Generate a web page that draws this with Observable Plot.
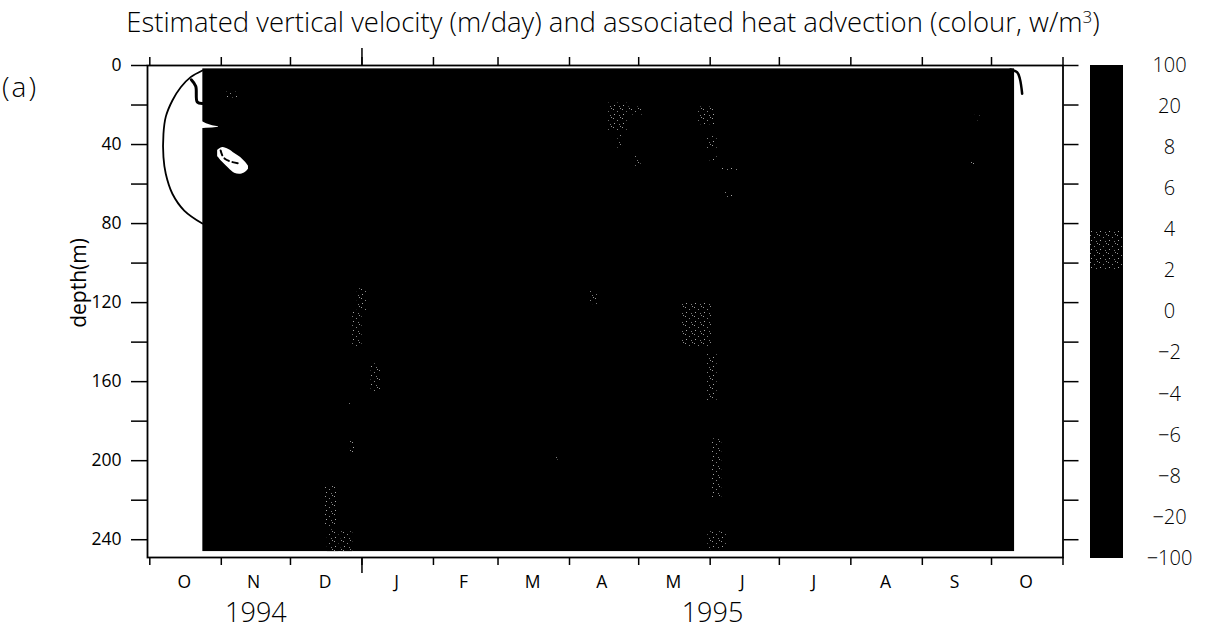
<!DOCTYPE html>
<html>
<head>
<meta charset="utf-8">
<script src="https://cdn.jsdelivr.net/npm/d3@7"></script>
<script src="https://cdn.jsdelivr.net/npm/@observablehq/plot@0.6"></script>
<style>
  html, body { margin: 0; padding: 0; background: #fff; }
  #wrap { position: relative; width: 1205px; height: 634px; font-family: "Open Sans", "DejaVu Sans", sans-serif; font-weight: 300; color: #000; overflow: hidden; }
  #title { position: absolute; top: 5px; left: 613px; transform: translateX(-50%); white-space: nowrap; font-size: 27.5px; line-height: 34px; }
  #title sup { font-size: 0.62em; vertical-align: 0.55em; line-height: 0; }
  #panel { position: absolute; left: 2px; top: 70px; font-size: 28px; letter-spacing: 2px; line-height: 1.2; }
  #ylab { position: absolute; left: 78px; top: 283px; transform: translate(-50%, -50%) rotate(-90deg); white-space: nowrap; font-size: 21px; font-weight: 400; line-height: 1; }
  #main { position: absolute; left: 0; top: 0; }
  #cbar { position: absolute; left: 1062px; top: 0; }
</style>
</head>
<body>
<svg style="position:absolute;width:0;height:0" aria-hidden="true">
  <defs>
    <pattern id="speck" width="9" height="9" patternUnits="userSpaceOnUse">
      <rect width="9" height="9" fill="#000"></rect>
      <rect x="1" y="1" width="1" height="1" fill="#9a9a9a"></rect>
      <rect x="5" y="3" width="1" height="1" fill="#858585"></rect>
      <rect x="2" y="6" width="1" height="1" fill="#a8a8a8"></rect>
      <rect x="7" y="7" width="1" height="1" fill="#7c7c7c"></rect>
      <rect x="8" y="0" width="1" height="1" fill="#8e8e8e"></rect>
    </pattern>
  </defs>
</svg>
<div id="wrap">
  <div id="title">Estimated vertical velocity (m/day) and associated heat advection (colour, w/m<sup>3</sup>)</div>
  <div id="panel">(a)</div>
  <div id="main"></div>
  <div id="cbar"></div>
  <div id="ylab">depth(m)</div>
</div>
<script>
// ---------------- data ----------------
const xDomain = ["1994-09-30", "1995-11-01"];
const depthDomain = [0, 249];

const monthStarts = ["1994-10-01","1994-11-01","1994-12-01","1995-01-01","1995-02-01","1995-03-01",
  "1995-04-01","1995-05-01","1995-06-01","1995-07-01","1995-08-01","1995-09-01","1995-10-01","1995-11-01"];
const yearBoundary = ["1995-01-01"];
const monthLabels = ["O","N","D","J","F","M","A","M","J","J","A","S","O"];
const monthLabelDates = ["1994-10-16","1994-11-15","1994-12-16","1995-01-16","1995-02-14","1995-03-16",
  "1995-04-15","1995-05-16","1995-06-15","1995-07-16","1995-08-16","1995-09-15","1995-10-16"];
const yearLabels = ["1994", "1995"];
const yearLabelDates = ["1994-11-16", "1995-06-02"];

const depthTicks = [0,20,40,60,80,100,120,140,160,180,200,220,240];
const depthLabelStep = 40;

// colour classes (heat advection, W/m^3)
const colorBreaks = [-20,-8,-6,-4,-2,0,2,4,6,8,20];
const colorRange = ["#000","#000","#000","#000","#000","#000","#000","url(#speck)","#000","#000","#000","#000"];
const cbBounds = [100,20,8,6,4,2,0,-2,-4,-6,-8,-20,-100];
const cbLabels = ["100","20","8","6","4","2","0","\u22122","\u22124","\u22126","\u22128","\u221220","\u2212100"];

// observed field extent
const fieldDates = ["1994-10-24", "1995-10-11"];
const fieldDepths = [1.7, 246];
const fieldValue = 12;

// patches of the 2..4 class: [start, end, top depth, bottom depth, value]
const speckPatches = [
  ["1994-11-03","1994-11-08",13.5,16.5,3],
  ["1994-12-30","1995-01-03",113,125,3],
  ["1994-12-28","1995-01-01",125,143,3],
  ["1995-01-05","1995-01-09",151,166,3],
  ["1994-12-26","1994-12-27",170,172,3],
  ["1994-12-27","1994-12-29",190,197,3],
  ["1994-12-16","1994-12-21",213,234,3],
  ["1994-12-17","1994-12-22",235,246,3],
  ["1994-12-23","1994-12-28",236,246,3],
  ["1995-04-18","1995-04-26",19,33,3],
  ["1995-04-26","1995-05-03",21,25,3],
  ["1995-04-22","1995-04-24",35,42,3],
  ["1995-04-29","1995-05-02",46,51,3],
  ["1995-05-27","1995-06-03",21,30,3],
  ["1995-05-30","1995-06-04",36,43,3],
  ["1995-06-01","1995-06-04",46,49,3],
  ["1995-06-06","1995-06-13",52,53.5,3],
  ["1995-06-07","1995-06-11",64,67,3],
  ["1995-05-20","1995-06-02",120,143,3],
  ["1995-05-30","1995-06-04",146,170,3],
  ["1995-06-02","1995-06-06",189,219,3],
  ["1995-05-31","1995-06-08",236,245,3],
  ["1995-09-24","1995-09-26",25,28,3],
  ["1995-09-22","1995-09-24",49,52,3],
  ["1995-04-10","1995-04-13",114,121,3],
  ["1995-03-25","1995-03-27",197,200,3]
];

// velocity contour left of the record
const contourDates = ["1994-10-23T19:00","1994-10-18T17:00","1994-10-14T10:00","1994-10-10T19:00","1994-10-07T22:00",
  "1994-10-06T22:00","1994-10-06T22:00","1994-10-07T22:00","1994-10-10T19:00","1994-10-15T22:00","1994-10-23T19:00"];
const contourDepths = [2.5, 5.9, 11, 17.7, 26, 34.6, 46.4, 54.8, 64.9, 73.4, 80];

const hookDates = ["1994-10-19T00:00","1994-10-20T22:00","1994-10-21T14:00","1994-10-23T19:00"];
const hookDepths = [7.2, 10.5, 18.5, 19.2];

const endHookDates = ["1995-10-09T05:00","1995-10-12T02:00","1995-10-13T07:00","1995-10-14T07:00"];
const endHookDepths = [2.0, 3.4, 6.7, 14.3];

// missing-data gaps
const gapBlobDates = ["1994-10-30T10:00","1994-11-01T14:00","1994-11-04T05:00","1994-11-06T19:00","1994-11-09T10:00","1994-11-11T12:00","1994-11-12T19:00"];
const gapBlobTop = [43, 41.5, 42.5, 44.5, 46.5, 49, 51];
const gapBlobBottom = [46, 49, 52, 54.5, 55, 54, 52.5];
const blobContourDates = ["1994-10-31T17:00","1994-11-02T00:00","1994-11-05T00:00","1994-11-08T22:00"];
const blobContourDepths = [43, 46.6, 48.6, 49.6];

const notchDates = ["1994-10-23T00:00","1994-10-25T14:00","1994-10-28T05:00","1994-10-30T19:00"];
const notchTop = [28, 29.5, 30.5, 31];
const notchBottom = [32, 31.8, 31.6, 31.2];

// ---------------- build ----------------
const t = s => new Date(s.length === 10 ? s + "T00:00Z" : s + "Z");
const font = '"Open Sans", "DejaVu Sans", sans-serif';

const field = [{x1: t(fieldDates[0]), x2: t(fieldDates[1]), y1: fieldDepths[0], y2: fieldDepths[1], v: fieldValue}];
const specks = speckPatches.map(([a, b, z1, z2, v]) => ({x1: t(a), x2: t(b), y1: z1, y2: z2, v}));
const contour = contourDates.map((d, i) => ({x: t(d), y: contourDepths[i]}));
const hook = hookDates.map((d, i) => ({x: t(d), y: hookDepths[i]}));
const endHook = endHookDates.map((d, i) => ({x: t(d), y: endHookDepths[i]}));
const blob = gapBlobDates.map((d, i) => ({x: t(d), y1: gapBlobTop[i], y2: gapBlobBottom[i]}));
const blobLine = blobContourDates.map((d, i) => ({x: t(d), y: blobContourDepths[i]}));
const notch = notchDates.map((d, i) => ({x: t(d), y1: notchTop[i], y2: notchBottom[i]}));
const months = monthLabels.map((m, i) => ({x: t(monthLabelDates[i]), label: m}));
const years = yearLabels.map((y, i) => ({x: t(yearLabelDates[i]), label: y}));
const ticksX = monthStarts.map(t);
const janX = yearBoundary.map(t);

const colorScale = {type: "threshold", domain: colorBreaks, range: colorRange};

const main = Plot.plot({
  width: 1205, height: 634,
  marginLeft: 147, marginRight: 142.5, marginTop: 65, marginBottom: 77,
  style: {fontFamily: font, fontWeight: 400, background: "transparent", overflow: "visible", color: "#000"},
  x: {type: "utc", domain: xDomain.map(t)},
  y: {domain: depthDomain, reverse: true},
  color: colorScale,
  marks: [
    Plot.rect(field, {x1: "x1", x2: "x2", y1: "y1", y2: "y2", fill: "v"}),
    Plot.rect(specks, {x1: "x1", x2: "x2", y1: "y1", y2: "y2", fill: "v"}),
    Plot.areaY(blob, {x: "x", y1: "y1", y2: "y2", fill: "white", curve: "catmull-rom"}),
    Plot.line(blobLine, {x: "x", y: "y", stroke: "black", strokeWidth: 2, strokeDasharray: "5,4", curve: "catmull-rom"}),
    Plot.areaY(notch, {x: "x", y1: "y1", y2: "y2", fill: "white"}),
    Plot.line(contour, {x: "x", y: "y", stroke: "black", strokeWidth: 1.8, curve: "catmull-rom"}),
    Plot.line(hook, {x: "x", y: "y", stroke: "black", strokeWidth: 3, curve: "catmull-rom"}),
    Plot.line(endHook, {x: "x", y: "y", stroke: "black", strokeWidth: 2.5, curve: "catmull-rom"}),
    Plot.frame({stroke: "black", strokeWidth: 1.8}),
    Plot.axisX({anchor: "bottom", ticks: ticksX, tickSize: 8, tickFormat: () => "", strokeWidth: 1.5, label: null}),
    Plot.axisX({anchor: "bottom", ticks: janX, tickSize: 16, tickFormat: () => "", strokeWidth: 1.5, label: null}),
    Plot.axisX({anchor: "top", ticks: ticksX, tickSize: 9, tickFormat: () => "", strokeWidth: 1.5, label: null}),
    Plot.axisX({anchor: "top", ticks: janX, tickSize: 18, tickFormat: () => "", strokeWidth: 1.5, label: null}),
    Plot.axisY({anchor: "left", ticks: depthTicks, tickSize: 16, tickPadding: 10, fontSize: 17.5, strokeWidth: 1.5,
      tickFormat: d => d % depthLabelStep === 0 ? String(d) : "", label: null}),
    Plot.axisY({anchor: "right", ticks: depthTicks, tickSize: 15, tickFormat: () => "", strokeWidth: 1.5, label: null}),
    Plot.text(months, {x: "x", text: "label", frameAnchor: "bottom", dy: 30, fontSize: 17.5}),
    Plot.text(years, {x: "x", text: "label", frameAnchor: "bottom", dy: 64, fontSize: 27, fontWeight: 300})
  ]
});
document.getElementById("main").appendChild(main);

const cbBins = cbBounds.slice(0, -1).map((b, i) => ({i0: i, i1: i + 1, v: (b + cbBounds[i + 1]) / 2}));
const cbTicks = cbLabels.map((l, i) => ({i, label: l}));
const cbar = Plot.plot({
  width: 143, height: 634,
  marginLeft: 28, marginRight: 82, marginTop: 65, marginBottom: 76,
  style: {fontFamily: font, fontWeight: 300, background: "transparent", overflow: "visible", color: "#000"},
  x: {domain: [0, 1], axis: null},
  y: {domain: [0, cbBounds.length - 1], reverse: true, axis: null},
  color: colorScale,
  marks: [
    Plot.rect(cbBins, {x1: 0, x2: 1, y1: "i0", y2: "i1", fill: "v", shapeRendering: "crispEdges"}),
    Plot.text(cbTicks, {x: 1, y: "i", text: "label", dx: 46, fontSize: 20})
  ]
});
document.getElementById("cbar").appendChild(cbar);
</script>
</body>
</html>
